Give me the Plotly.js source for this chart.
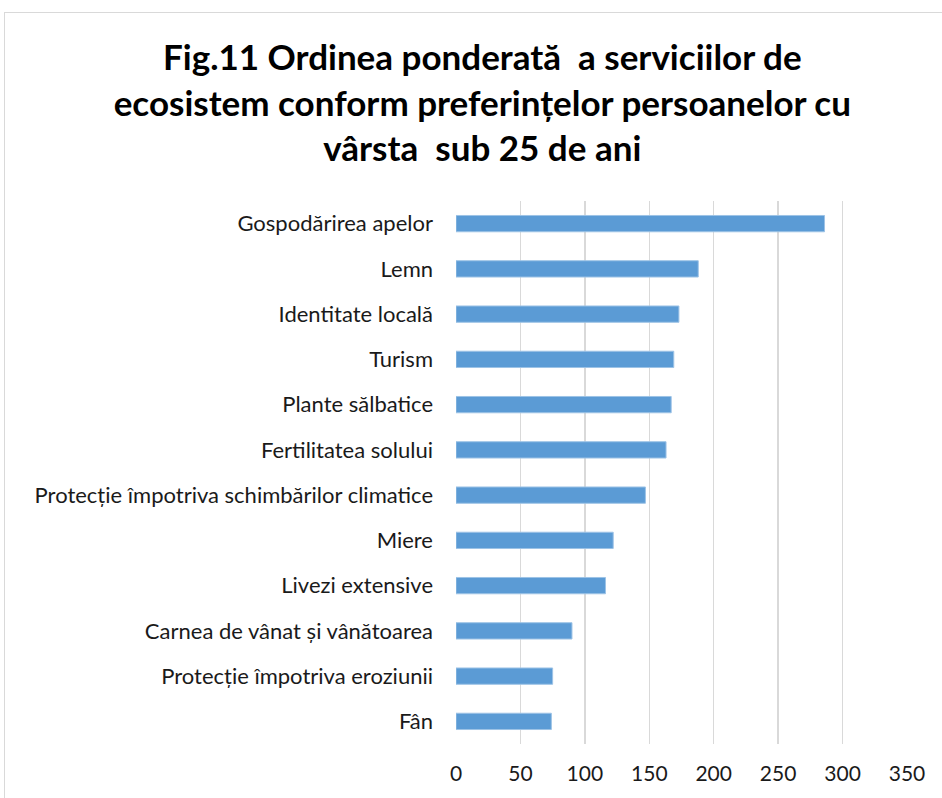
<!DOCTYPE html>
<html>
<head>
<meta charset="utf-8">
<script src="https://cdn.plot.ly/plotly-3.0.1.min.js"></script>
<style>
html,body{margin:0;padding:0;overflow:hidden;background:#fff;}
#frame{position:absolute;left:4px;top:12px;width:960px;height:820px;border:1px solid #d9d9d9;box-sizing:border-box;}
#chart{position:absolute;left:0;top:0;width:942px;height:798px;}
</style>
</head>
<body>
<div id="frame"></div>
<div id="chart"></div>
<script>
const categories = [
  "Gospodărirea apelor",
  "Lemn",
  "Identitate locală",
  "Turism",
  "Plante sălbatice",
  "Fertilitatea solului",
  "Protecție împotriva schimbărilor climatice",
  "Miere",
  "Livezi extensive",
  "Carnea de vânat și vânătoarea",
  "Protecție împotriva eroziunii",
  "Fân"
];
const values = [286, 188, 173, 169, 167, 163, 147, 122, 116, 90, 75, 74];
const xTicks = [0, 50, 100, 150, 200, 250, 300, 350];
const titleText = "Fig.11 Ordinea ponderată  a serviciilor de<br>ecosistem conform preferințelor persoanelor cu<br>vârsta  sub 25 de ani";

const trace = {
  type: "bar",
  orientation: "h",
  x: values,
  y: categories,
  marker: {color: "#5b9bd5", line: {color: "#9dc3e6", width: 1}},
  hoverinfo: "x+y"
};

const layout = {
  width: 942,
  height: 798,
  paper_bgcolor: "rgba(0,0,0,0)",
  plot_bgcolor: "rgba(0,0,0,0)",
  margin: {l: 456, r: 35, t: 201, b: 54, pad: 0},
  bargap: 0.64,
  showlegend: false,
  title: {
    text: titleText,
    font: {family: "Lato, 'Open Sans', sans-serif", size: 35, color: "#000000", weight: "bold"},
    x: 0.512, xref: "container", xanchor: "center",
    y: 0.912, yref: "container", yanchor: "top"
  },
  xaxis: {
    range: [0, 350],
    tickvals: xTicks,
    ticktext: xTicks.map(String),
    showgrid: true,
    gridcolor: "#d9d9d9",
    gridwidth: 1.5,
    zeroline: false,
    showline: false,
    ticks: "",
    tickfont: {family: "Lato, 'Open Sans', sans-serif", size: 21, color: "#1a1a1a"},
    ticklabelstandoff: 15,
    fixedrange: true
  },
  yaxis: {
    type: "category",
    autorange: "reversed",
    showgrid: false,
    zeroline: false,
    showline: false,
    ticks: "",
    ticklabelstandoff: 22,
    tickfont: {family: "Lato, 'Open Sans', sans-serif", size: 22, color: "#1a1a1a"},
    fixedrange: true
  }
};

Plotly.newPlot("chart", [trace], layout, {displayModeBar: false, staticPlot: true});
</script>
</body>
</html>
